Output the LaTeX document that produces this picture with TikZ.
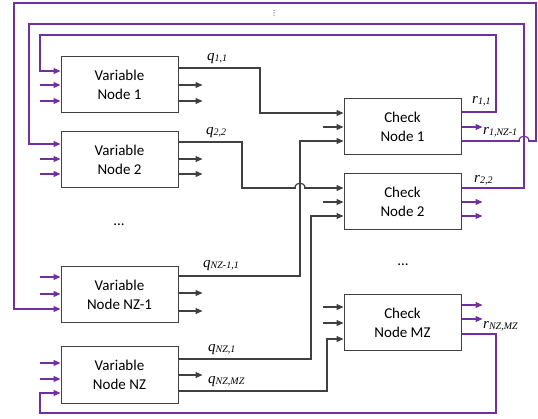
\documentclass[tikz,border=0pt]{standalone}
\usepackage{fontspec}
\setmainfont{Carlito}
\newfontfamily\labfont{Liberation Serif}
\newfontfamily\symfont{DejaVu Sans}
\usetikzlibrary{arrows.meta}
\definecolor{vio}{HTML}{7030A0}
\definecolor{ink}{HTML}{404040}
% message label: italic letter with a smaller italic index
\newcommand{\msglab}[2]{{\labfont\itshape\fontsize{15}{15}\selectfont #1\raisebox{-1pt}{\fontsize{10}{10}\selectfont #2}}}
\begin{document}
\begin{tikzpicture}[x=1pt,y=-1pt,
  blk/.style={draw=ink, line width=1pt, minimum width=117pt, minimum height=56pt,
              inner sep=0pt, align=center, fill=white,
              font=\fontsize{15}{18.5}\selectfont},
  msg/.style={draw=ink, line width=1.2pt},
  fb/.style={draw=vio, line width=1.2pt},
  tip/.style={-{Triangle[length=7pt,width=6pt]}},
  gap/.style={draw=white, line width=2.4pt},
  lab/.style={inner sep=0pt, anchor=base west},
  dots/.style={font=\fontsize{15}{15}\selectfont, inner sep=0pt},
]
\useasboundingbox (0,0) rectangle (538,419);

% variable nodes
\node[blk] (v1) at (119.5,85)  {Variable\\Node 1};
\node[blk] (v2) at (119.5,160) {Variable\\Node 2};
\node[blk] (v3) at (119.5,295) {Variable\\Node NZ-1};
\node[blk] (v4) at (119.5,375) {Variable\\Node NZ};
% check nodes
\node[blk] (c1) at (402.5,127) {Check\\Node 1};
\node[blk] (c2) at (402.5,202) {Check\\Node 2};
\node[blk] (c3) at (402.5,323) {Check\\Node MZ};

% ports (input i, output o)
\coordinate (v1i1) at ([yshift=14pt]v1.west);
\coordinate (v1i2) at (v1.west);
\coordinate (v1i3) at ([yshift=-16pt]v1.west);
\coordinate (v1o1) at ([yshift=17pt]v1.east);
\coordinate (v1o2) at (v1.east);
\coordinate (v1o3) at ([yshift=-16pt]v1.east);

\coordinate (v2i1) at ([yshift=16pt]v2.west);
\coordinate (v2i2) at ([yshift=1pt]v2.west);
\coordinate (v2i3) at ([yshift=-14pt]v2.west);
\coordinate (v2o1) at ([yshift=18pt]v2.east);
\coordinate (v2o2) at ([yshift=1pt]v2.east);
\coordinate (v2o3) at ([yshift=-14pt]v2.east);

\coordinate (v3i1) at ([yshift=18pt]v3.west);
\coordinate (v3i2) at ([yshift=1pt]v3.west);
\coordinate (v3i3) at ([yshift=-14pt]v3.west);
\coordinate (v3o1) at ([yshift=19pt]v3.east);
\coordinate (v3o2) at ([yshift=2pt]v3.east);
\coordinate (v3o3) at ([yshift=-16pt]v3.east);

\coordinate (v4i1) at ([yshift=12pt]v4.west);
\coordinate (v4i2) at ([yshift=-4pt]v4.west);
\coordinate (v4i3) at ([yshift=-18pt]v4.west);
\coordinate (v4o1) at ([yshift=16pt]v4.east);
\coordinate (v4o2) at (v4.east);
\coordinate (v4o3) at ([yshift=-16pt]v4.east);

\coordinate (c1i1) at ([yshift=14pt]c1.west);
\coordinate (c1i2) at (c1.west);
\coordinate (c1i3) at ([yshift=-14pt]c1.west);
\coordinate (c1o1) at ([yshift=15pt]c1.east);
\coordinate (c1o2) at (c1.east);
\coordinate (c1o3) at ([yshift=-14pt]c1.east);

\coordinate (c2i1) at ([yshift=14pt]c2.west);
\coordinate (c2i2) at (c2.west);
\coordinate (c2i3) at ([yshift=-14pt]c2.west);
\coordinate (c2o1) at ([yshift=14pt]c2.east);
\coordinate (c2o2) at (c2.east);
\coordinate (c2o3) at ([yshift=-14pt]c2.east);

\coordinate (c3i1) at ([yshift=16pt]c3.west);
\coordinate (c3i2) at (c3.west);
\coordinate (c3i3) at ([yshift=-16pt]c3.west);
\coordinate (c3o1) at ([yshift=18pt]c3.east);
\coordinate (c3o2) at ([yshift=4pt]c3.east);
\coordinate (c3o3) at ([yshift=-11pt]c3.east);

% incoming stubs of the variable nodes
\foreach \p in {v1i2,v1i3,v2i2,v2i3,v3i1,v3i2,v4i1,v4i2}
  \draw[fb,tip] ([xshift=-21pt]\p) -- (\p);
% outgoing stubs of the variable nodes
\foreach \p in {v1o2,v1o3,v2o2,v2o3,v3o2,v3o3,v4o2}
  \draw[msg,tip] (\p) -- ([xshift=24pt]\p);
% incoming stubs of the check nodes
\foreach \p in {c1i2,c2i2,c3i1,c3i2}
  \draw[msg,tip] ([xshift=-21pt]\p) -- (\p);
% outgoing stubs of the check nodes
\foreach \p in {c1o2,c2o2,c2o3,c3o1,c3o2}
  \draw[fb,tip] (\p) -- ([xshift=21pt]\p);

% variable-to-check messages (q2,2 hops over the q_{NZ-1,1} line)
\draw[msg,tip] (v1o1) -| (260,113) -- (c1i1);
\draw[msg,tip] (v2o1) -| (242,188) -- (c2i1);
\draw[gap] (295.6,188) -- (304.4,188);
\draw[msg] (295,188) .. controls (295,181.5) and (305,181.5) .. (305,188);
\draw[msg,tip] (v3o1) -| (300,141) -- (c1i3);
\draw[msg,tip] (v4o1) -| (311,216) -- (c2i3);
\draw[msg,tip] (v4o3) -| (327,339) -- (c3i3);

% check-to-variable messages (r1,NZ-1 hops over the r2,2 line)
\draw[fb,tip] (c1o1) -| (496,35) -| (40,71) -- (v1i1);
\draw[fb,tip] (c1o3) -| (536,3) -| (14,309) -- (v3i3);
\draw[gap] (519.6,141) -- (528.4,141);
\draw[fb] (519,141) .. controls (519,134.5) and (529,134.5) .. (529,141);
\draw[fb,tip] (c2o1) -| (524,24) -| (29,144) -- (v2i1);
\draw[fb,tip] (c3o3) -| (496,413) -| (40,393) -- (v4i3);

% labels
\node[lab] (lq11) at (207,61)  {\msglab{q}{1,1}};
\node[lab] (lq22) at (206,135) {\msglab{q}{2,2}};
\node[lab] (lq31) at (203,268) {\msglab{q}{NZ-1,1}};
\node[lab] (lq41) at (208,352) {\msglab{q}{NZ,1}};
\node[lab] (lq42) at (208,384) {\msglab{q}{NZ,MZ}};
\node[lab] (lr11) at (472,104) {\msglab{r}{1,1}};
\node[lab] (lr13) at (483,135) {\msglab{r}{1,NZ-1}};
\node[lab] (lr22) at (474,183) {\msglab{r}{2,2}};
\node[lab] (lr33) at (483,329) {\msglab{r}{NZ,MZ}};

% ellipses
\node[dots] (dv) at (119,225) {...};
\node[dots] (dc) at (403,265) {...};
\node[inner sep=0pt, font=\symfont\fontsize{7}{7}\selectfont] (dt) at (274,13.5) {⋮};
\end{tikzpicture}
\end{document}
